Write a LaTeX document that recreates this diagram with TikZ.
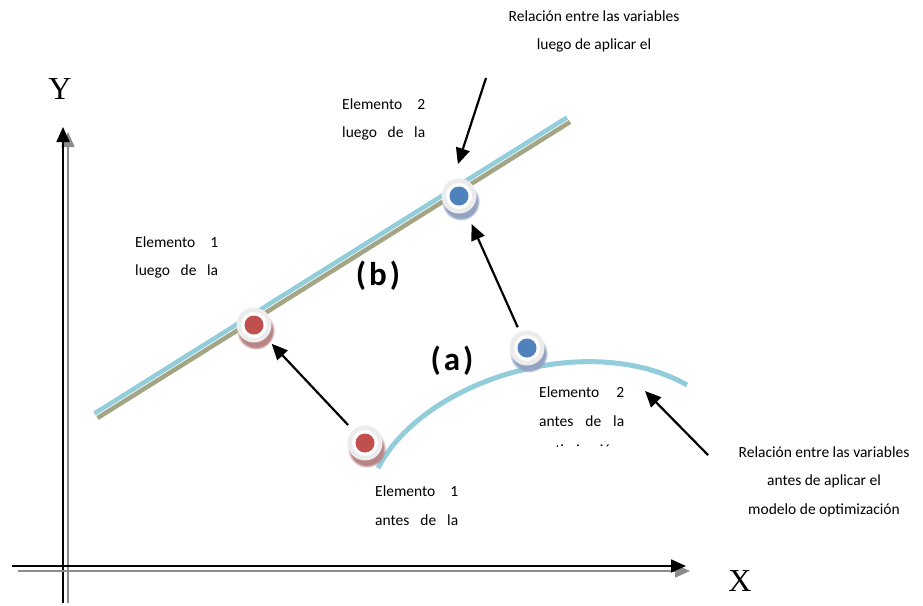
\documentclass[tikz,border=0pt]{standalone}
\usepackage{fontspec}
\setmainfont{Liberation Serif}
\newfontfamily\calfont{Carlito}
\usetikzlibrary{arrows.meta,shadows}
\definecolor{lblue}{HTML}{92CDDC}
\definecolor{olive}{HTML}{A4A584}
\definecolor{dred}{HTML}{C0504D}
\definecolor{dblue}{HTML}{4F81BD}
\definecolor{redsh}{HTML}{B98584}
\definecolor{bluesh}{HTML}{94A3C2}
\definecolor{ring}{HTML}{ECECEC}
\definecolor{axgray}{HTML}{8C8C8C}
\tikzset{
  lbl/.style={font=\calfont\fontsize{15.5}{18}\selectfont, inner sep=0pt},
  tag/.style={font=\calfont\bfseries\fontsize{33}{35}\selectfont, inner sep=0pt},
  axlbl/.style={font=\fontsize{32}{34}\selectfont, inner sep=0pt},
  disc/.style={circle, minimum size=35pt, inner sep=0pt, fill=ring,
    circular drop shadow={shadow xshift=1.5pt, shadow yshift=-5pt, fill=#1, opacity=1}},
  arr/.style={line width=2.2pt, -{Triangle[length=16pt,width=14pt]}},
  blackax/.style={line width=1.8pt, black, -{Triangle[length=15pt,width=13pt]}},
  grayax/.style={line width=1.8pt, axgray, -{Triangle[length=15pt,width=13pt]}},
}
\begin{document}
\begin{tikzpicture}[x=1pt,y=-1pt]
\useasboundingbox (0,0) rectangle (923,605);
% axes
\draw[grayax] (68,603) -- (68,132);
\draw[blackax] (63,603) -- (63,127);
\draw[grayax] (18,571) -- (690,571);
\draw[blackax] (12,566) -- (686,566);
\node[axlbl] (ylab) at (60,89) {Y};
\node[axlbl] (xlab) at (740,581) {X};
% line (b)
\draw[olive, line width=4.5pt] (97.5,418) -- (570,122);
\draw[lblue, line width=4.5pt] (94.5,413.5) -- (567,117.5);
% curve (a)
\draw[lblue, line width=5pt] (378,468) .. controls (425,378) and (590,330) .. (687,385);
% discs
\node[disc=redsh] (e1b) at (254,325) {};
\node[disc=redsh] (e1a) at (365,443) {};
\node[disc=bluesh] (e2b) at (459,196) {};
\node[disc=bluesh] (e2a) at (527,348) {};
\foreach \n/\c in {e1b/dred, e1a/dred, e2b/dblue, e2a/dblue}{
  \fill[white] (\n) circle (13pt);
  \fill[\c] (\n) circle (9.5pt);
}
% tags
\node[tag] (tb) at (378,276) {(\hspace{3pt}b\hspace{3pt})};
\node[tag] (ta) at (452,361) {(\hspace{3pt}a\hspace{3pt})};
% labels
\node[lbl, anchor=base] (rl1) at (594,21) {Relación entre las variables};
\node[lbl, anchor=base] (rl2) at (594,49) {luego de aplicar el};
\node[lbl, anchor=base west] (l2b1) at (342,109) {\makebox[83pt][s]{Elemento\hfill 2}};
\node[lbl, anchor=base west] (l2b2) at (342,137) {\makebox[83pt][s]{luego\hfill de\hfill la}};
\node[lbl, anchor=base west] (l1b1) at (135,247) {\makebox[83pt][s]{Elemento\hfill 1}};
\node[lbl, anchor=base west] (l1b2) at (135,275) {\makebox[83pt][s]{luego\hfill de\hfill la}};
\node[lbl, anchor=base west] (l2a1) at (539,397) {\makebox[85pt][s]{Elemento\hfill 2}};
\node[lbl, anchor=base west] (l2a2) at (539,426) {\makebox[85pt][s]{antes\hfill de\hfill la}};
\begin{scope}
\clip (530,438) rectangle (640,446);
\node[lbl, anchor=base west] (l2a3) at (539,455) {\makebox[85pt][s]{optimización}};
\end{scope}
\node[lbl, anchor=base west] (l1a1) at (375,496) {\makebox[83pt][s]{Elemento\hfill 1}};
\node[lbl, anchor=base west] (l1a2) at (375,525) {\makebox[83pt][s]{antes\hfill de\hfill la}};
\node[lbl, anchor=base] (rr1) at (824,457) {Relación entre las variables};
\node[lbl, anchor=base] (rr2) at (824,485) {antes de aplicar el};
\node[lbl, anchor=base] (rr3) at (824,514) {modelo de optimización};
% arrows
\coordinate (t3) at (486,78);
\coordinate (t4) at (708,455);
\coordinate (h4) at (645,391);
\draw[arr, shorten <=7pt, shorten >=8pt] (e1a) -- (e1b);
\draw[arr, shorten <=5pt, shorten >=13pt] (e2a) -- (e2b);
\draw[arr, shorten >=16pt] (t3) -- (e2b.110);
\draw[arr] (t4) -- (h4);
\end{tikzpicture}
\end{document}
